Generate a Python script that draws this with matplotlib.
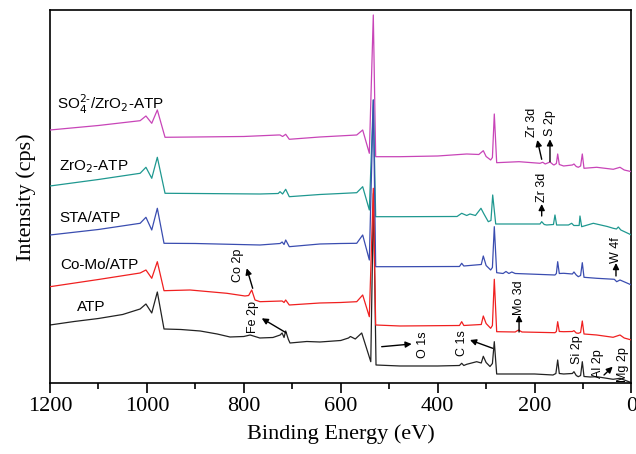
# %%
# XPS survey spectra of ATP and modified samples
import numpy as np
import matplotlib
matplotlib.use('Agg')
import matplotlib.pyplot as plt

plt.rcParams['font.family'] = ['Liberation Sans', 'DejaVu Sans']

# %%
# binding energy (eV) and intensity (a.u., offset already included)
atp_e = [1200, 1150, 1100, 1050, 1014, 1002, 990, 978.5, 964.7, 930, 890, 855, 828.5, 800, 787, 767, 740,
         725, 721, 717, 713.6, 708, 704.7, 670, 643, 600, 584, 580, 570, 556.7, 538, 532.5, 527.2, 477.7,
         400, 355, 350.4, 346, 340, 319.5, 310, 305.8, 300, 292, 287, 283.1, 278.2,
         200, 162, 156, 152.3, 149, 140, 122, 118.7, 114, 109.8, 105, 101.5, 98, 85, 71.8, 55, 38, 23.7, 15, 0]
atp_i = [58.5, 62, 65, 69, 74.5, 79.5, 70.5, 91.5, 54.5, 54, 52.5, 49.5, 46.5, 47, 48.5, 45.5, 46,
         48.5, 50.5, 46, 52.5, 44, 40.5, 42, 41.5, 43, 45.5, 47, 44.5, 50.5, 21.8, 190, 18.5, 17.5,
         17.5, 18, 20.2, 18, 19.2, 21.8, 20.5, 27.2, 21, 17, 20, 41.8, 9.5,
         9.5, 8.5, 10, 23.5, 10, 9.5, 10, 11.8, 8, 6.8, 8, 21.8, 7, 6.5, 6.8, 5.5, 4.2, 5.2, 3.5, 0.8]

como_e = [1200, 1100, 1014, 1002, 990, 978.5, 964.7, 911, 835, 797.6, 790, 783.7, 776.9, 766.6, 721, 717,
          713.6, 706.2, 643, 600, 567, 554.7, 541, 532.8, 527.9, 477.7, 355, 350.4, 346, 310, 305.8, 300,
          290.6, 287, 283.1, 278.2, 240, 233, 226,
          157.9, 155, 152.3, 149, 140, 122, 118.7, 114, 109.8, 105, 101.5, 98, 71.8, 38, 23.7, 15, 0]
como_i = [96.8, 104, 110.5, 113.5, 105.2, 121.8, 92.8, 93.5, 90.2, 87.5, 88, 93.5, 83.5, 81.8, 82.5, 81,
          83.5, 78.5, 80.5, 81, 81.8, 88.5, 66.8, 195.2, 58.5, 57.5, 58, 61.8, 58, 59, 67.5, 60,
          55.2, 58, 104.2, 51.8, 51.5, 53.5, 51.5,
          50.8, 52, 61.8, 52, 51.8, 52, 52.8, 50.5, 50.2, 51, 62.5, 49.5, 48.5, 46.2, 48.5, 45.5, 43.5]

sta_e = [1200, 1100, 1014, 1002, 990, 978.5, 964.7, 900, 766.6, 725, 721, 717, 713.6, 706.2, 643, 600,
         567, 554.7, 541, 532.8, 527.9, 477.7, 355, 350.4, 346, 310, 305.8, 300, 290.6, 287, 283.1, 278.2,
         265, 259, 253, 247, 240,
         157.9, 155, 152.3, 149, 140, 122, 118.7, 114, 109.8, 105, 101.5, 98, 71.8, 35.5, 30.5, 23.7, 0]
sta_i = [148.5, 154, 160.2, 166.2, 153.5, 175.2, 140.2, 140, 138.5, 140, 141.5, 139, 143.5, 136.8, 139.5, 140,
         140.2, 148.5, 123.5, 283.5, 116.8, 116.8, 117, 120.2, 117.5, 119, 127.5, 118, 113.5, 116, 156.8, 110.8,
         110, 112, 110, 111.5, 110,
         108.5, 110, 121.8, 110, 110.2, 109.5, 111.5, 108.5, 106.8, 108, 120.8, 106.2, 105.2, 104.2, 101.8, 103.5, 98.5]

zr_e = [1200, 1100, 1014, 1002, 990, 978.5, 962.6, 900, 766.6, 729, 725.3, 720, 713.6, 706.2, 643, 600,
        567, 554.7, 541, 532.8, 527.9, 477.7, 360, 350.4, 340, 333.3, 322, 310.6, 305, 295.5, 290, 286.4,
        280.2, 188.8, 185.3, 180, 175, 161, 157.9, 154.5, 130, 123.4, 119, 108, 106.3, 102.8, 78.8, 50,
        37.6, 31, 27.2, 22, 0]
zr_i = [197.5, 204, 210.2, 216.2, 205.2, 226.2, 190.2, 190, 189.5, 190, 191.8, 189.5, 194.2, 186.8, 189, 190,
        190.8, 196.8, 173.5, 283.5, 166.8, 166.8, 167, 170.2, 168, 169.5, 168, 175.2, 170, 161.8, 163, 188.5,
        159.5, 159.5, 161.8, 159, 158.5, 159, 168.5, 158.5, 158.5, 160.2, 158, 158, 167.5, 156.8, 160.2, 157,
        155.2, 154.5, 156.5, 153.5, 148.5]

so4_e = [1200, 1100, 1014, 1002, 990, 978.5, 962.6, 900, 800, 729, 725.3, 720, 713.6, 706.2, 643, 567,
         554.7, 541, 532.8, 527.9, 477.7, 400, 340, 315, 305.8, 300, 290.6, 287, 283.1, 278.2, 232.1, 188.8,
         183.2, 178, 168.2, 162, 159.9, 155, 152.3, 149, 140, 122, 118.7, 114, 109.8, 105, 101.5, 98, 71.8,
         37.6, 23.7, 15, 0]
so4_i = [253.5, 258, 262.8, 267.5, 260.2, 273.5, 246.2, 246.5, 247, 248.5, 248.5, 247, 249.2, 244.2, 246.5, 248.5,
         253.5, 230.2, 368.5, 226.8, 226.8, 227.5, 229.5, 229, 232.8, 227, 223.5, 226, 269.5, 220.8, 221.8, 220.2,
         221.2, 219.5, 221.5, 219, 218.5, 220, 229.5, 219, 217.5, 218.5, 219.5, 217, 216.2, 217.5, 229.5, 215.2,
         216.2, 214.2, 216.2, 213.5, 211.8]

samples = ['ATP', 'Co-Mo/ATP', 'STA/ATP', 'ZrO$_2$-ATP', 'SO$_4^{2\\text{-}}$/ZrO$_2$-ATP']

# %%
fig = plt.figure(figsize=(6.36, 4.54), dpi=100)
ax = fig.add_axes([0.0786, 0.1553, 0.9143, 0.8227])

lw = 0.9
ax.plot(atp_e, atp_i, color='#222222', lw=lw, zorder=2)
ax.plot(so4_e, so4_i, color='#c845b8', lw=lw, zorder=3)
ax.plot(zr_e, zr_i, color='#1f9890', lw=lw, zorder=4)
ax.plot(sta_e, sta_i, color='#3a4db0', lw=lw, zorder=5)
ax.plot(como_e, como_i, color='#f02020', lw=lw, zorder=6)

ax.set_xlim(1200, 0)
ax.set_ylim(0, 373.5)
ax.set_xticks([1200, 1000, 800, 600, 400, 200, 0])
ax.set_xticks([1100, 900, 700, 500, 300, 100], minor=True)
ax.set_yticks([])
ax.tick_params(axis='x', which='major', direction='out', length=7, width=1.2, pad=3,
               labelsize=16, labelfontfamily='Liberation Serif')
ax.tick_params(axis='x', which='minor', direction='out', length=4, width=1.2)
for s in ax.spines.values():
    s.set_linewidth(1.2)

ax.set_xlabel('Binding Energy (eV)', fontsize=16, family='Liberation Serif', labelpad=6)
ax.set_ylabel('Intensity (cps)', fontsize=16, family='Liberation Serif', labelpad=10)

# sample names
name_pos = [(1144.9, 76.5), (1177.9, 118.5), (1181.4, 165), (1180.8, 217), (1186, 279.5)]
for name, (x, y) in zip(samples, name_pos):
    ax.text(x, y, name, fontsize=11, ha='left', va='center')

# peak labels: text, text position, arrow tail, arrow head
peaks = [
    ('Co 2p', (812, 118.5), (781.7, 95.2), (794, 115.2)),
    ('Fe 2p', (780.4, 66.8), (713, 50.8), (763, 65.2)),
    ('O 1s', (429.6, 38.5), (515.5, 36.8), (453.6, 39.5)),
    ('C 1s', (350.4, 40.5), (286.4, 35.2), (333.3, 43.5)),
    ('Mo 3d', (232, 86), (232, 51.5), (232, 68.5)),
    ('W 4f', (32, 133.5), (32, 107.5), (32, 120.5)),
    ('Si 2p', (111.8, 33.5), None, None),
    ('Al 2p', (69.7, 19.5), None, None),
    ('Mg 2p', (18.2, 18.5), (56.7, 8.5), (38.8, 16.8)),
    ('Zr 3d', (206, 261), (185.3, 224.2), (194.4, 243.5)),
    ('S 2p', (168.2, 260.5), (168.2, 221.8), (168.2, 244.2)),
    ('Zr 3d', (185.3, 196.5), (185.3, 167.5), (185.3, 179.5)),
]
for txt, tpos, tail, head in peaks:
    ax.text(tpos[0], tpos[1], txt, fontsize=9, rotation=90, ha='center', va='center', zorder=8)
    if tail is not None:
        ax.annotate('', xy=head, xytext=tail,
                    arrowprops=dict(arrowstyle='-|>', color='k', lw=1, mutation_scale=9,
                                    shrinkA=0, shrinkB=0), zorder=8)

fig.savefig('out.png', dpi=100)
